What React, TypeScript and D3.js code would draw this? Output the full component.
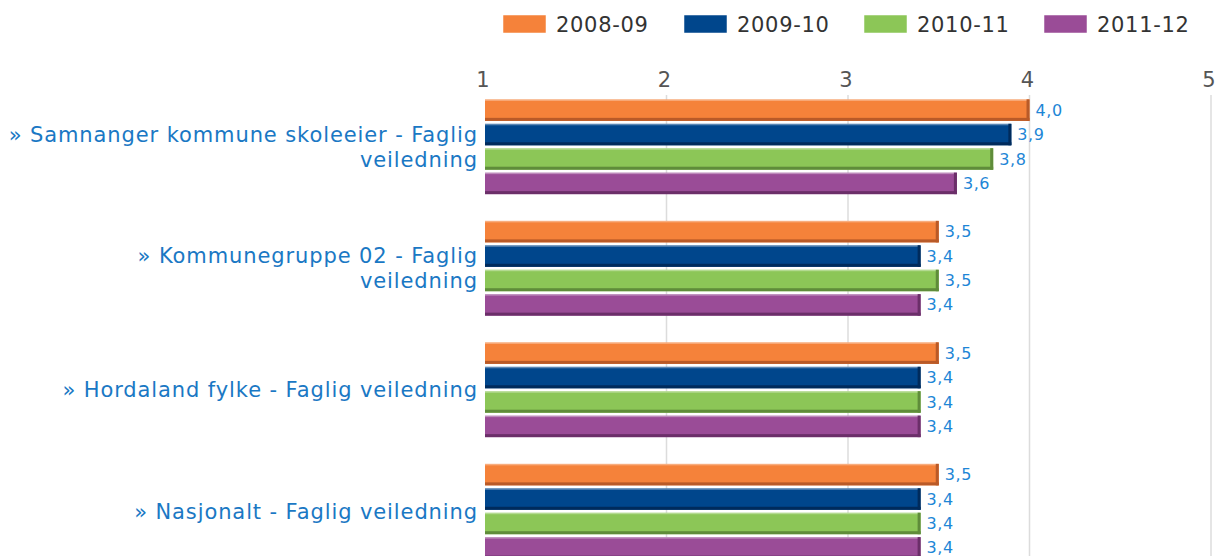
import React, { useEffect, useRef } from "react";
import * as d3 from "d3";

const categories = [
  ["» Samnanger kommune skoleeier - Faglig", "veiledning"],
  ["» Kommunegruppe 02 - Faglig", "veiledning"],
  ["» Hordaland fylke - Faglig veiledning"],
  ["» Nasjonalt - Faglig veiledning"],
];
const seriesNames = ["2008-09", "2009-10", "2010-11", "2011-12"];
const seriesColors = ["#f5823a", "#00468c", "#8cc657", "#9a4c97"];
const seriesDark = ["#b95a28", "#002b5c", "#5f8c3a", "#6b2f69"];
// values[category][series]
const values = [
  [4.0, 3.9, 3.8, 3.6],
  [3.5, 3.4, 3.5, 3.4],
  [3.5, 3.4, 3.4, 3.4],
  [3.5, 3.4, 3.4, 3.4],
];
const xTicks = [1, 2, 3, 4, 5];

const W = 1217;
const H = 556;

const App = () => {
  const svgRef = useRef<SVGSVGElement | null>(null);

  useEffect(() => {
    const svg = d3.select(svgRef.current);
    svg.selectAll("*").remove();

    const x = d3.scaleLinear().domain([1, 5]).range([485, 1211]);
    const y0 = d3
      .scaleBand<number>()
      .domain(d3.range(categories.length))
      .range([86, 572])
      .paddingInner(0.22)
      .paddingOuter(0.11);
    const y1 = d3
      .scaleBand<number>()
      .domain(d3.range(seriesNames.length))
      .range([0, y0.bandwidth()])
      .paddingInner(0.12);

    // grid lines
    svg
      .append("g")
      .selectAll("line")
      .data(xTicks.slice(1))
      .enter()
      .append("line")
      .attr("x1", (d) => x(d))
      .attr("x2", (d) => x(d))
      .attr("y1", 95)
      .attr("y2", H)
      .attr("stroke", "#dcdcdc")
      .attr("stroke-width", 1.5);

    // axis tick labels
    svg
      .append("g")
      .selectAll("text")
      .data(xTicks)
      .enter()
      .append("text")
      .attr("x", (d) => x(d) - 2)
      .attr("y", 87)
      .attr("text-anchor", "middle")
      .attr("font-family", "DejaVu Sans")
      .attr("font-size", 21)
      .attr("fill", "#555")
      .text((d) => d);

    // bars
    const groups = svg
      .append("g")
      .selectAll("g")
      .data(values)
      .enter()
      .append("g")
      .attr("transform", (_, i) => `translate(0,${y0(i)})`);

    const bar = groups
      .selectAll("g")
      .data((d) => d.map((v, j) => ({ v, j })))
      .enter()
      .append("g");

    bar
      .append("rect")
      .attr("x", x(1))
      .attr("y", (d) => y1(d.j)!)
      .attr("width", (d) => x(d.v) - x(1))
      .attr("height", y1.bandwidth())
      .attr("fill", (d) => seriesColors[d.j]);
    // darker bottom / right edges
    bar
      .append("rect")
      .attr("x", x(1))
      .attr("y", (d) => y1(d.j)! + y1.bandwidth() - 3)
      .attr("width", (d) => x(d.v) - x(1))
      .attr("height", 3)
      .attr("fill", (d) => seriesDark[d.j]);
    bar
      .append("rect")
      .attr("x", (d) => x(d.v) - 3)
      .attr("y", (d) => y1(d.j)!)
      .attr("width", 3)
      .attr("height", y1.bandwidth())
      .attr("fill", (d) => seriesDark[d.j]);
    bar
      .append("rect")
      .attr("x", x(1))
      .attr("y", (d) => y1(d.j)!)
      .attr("width", (d) => x(d.v) - x(1) - 3)
      .attr("height", 1.5)
      .attr("fill", "#fff")
      .attr("opacity", 0.35);

    bar
      .append("text")
      .attr("x", (d) => x(d.v) + 6)
      .attr("y", (d) => y1(d.j)! + y1.bandwidth() / 2)
      .attr("dy", "0.35em")
      .attr("font-family", "DejaVu Sans")
      .attr("font-size", 16)
      .attr("letter-spacing", 0.6)
      .attr("fill", "#1e86d6")
      .text((d) => d.v.toFixed(1).replace(".", ","));

    // category labels
    const lineH = 25;
    svg
      .append("g")
      .selectAll("text")
      .data(categories)
      .enter()
      .append("text")
      .attr("text-anchor", "end")
      .attr("font-family", "DejaVu Sans")
      .attr("font-size", 21)
      .attr("letter-spacing", 0.9)
      .attr("fill", "#1a78c4")
      .each(function (lines, i) {
        const cy = y0(i)! + y0.bandwidth() / 2;
        const startY = cy - ((lines.length - 1) * lineH) / 2;
        d3.select(this)
          .selectAll("tspan")
          .data(lines)
          .enter()
          .append("tspan")
          .attr("x", 478)
          .attr("y", (_, k) => startY + k * lineH)
          .attr("dy", "0.35em")
          .text((t) => t);
      });

    // legend
    const legendX = [503, 684, 864, 1044];
    const legend = svg
      .append("g")
      .selectAll("g")
      .data(seriesNames)
      .enter()
      .append("g")
      .attr("transform", (_, i) => `translate(${legendX[i]},15)`);
    legend
      .append("rect")
      .attr("width", 43)
      .attr("height", 18)
      .attr("fill", (_, i) => seriesColors[i])
      .attr("stroke", "#fff")
      .attr("stroke-width", 0.5);
    legend
      .append("text")
      .attr("x", 53)
      .attr("y", 9)
      .attr("dy", "0.36em")
      .attr("font-family", "DejaVu Sans")
      .attr("font-size", 21)
      .attr("letter-spacing", 0.7)
      .attr("fill", "#333")
      .text((d) => d);
  }, []);

  return (
    <svg
      ref={svgRef}
      width={W}
      height={H}
      style={{ position: "absolute", left: 0, top: 0, background: "#fff" }}
    ></svg>
  );
};

export default App;
